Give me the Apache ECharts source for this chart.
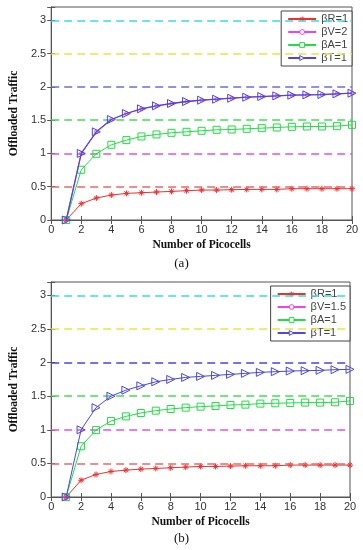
<!DOCTYPE html>
<html><head><meta charset="utf-8">
<script src="https://cdn.jsdelivr.net/npm/echarts@6/dist/echarts.min.js"></script>
<style>html,body{margin:0;padding:0;background:#fff}#c{width:363px;height:550px}</style>
</head><body><div id="c"></div>
<script>
var picocells = [1,2,3,4,5,6,7,8,9,10,11,12,13,14,15,16,17,18,19,20];
var thresholds = [3, 2.5, 2, 1.5, 1, 0.5];
var yTicks = ['0','0.5','1','1.5','2','2.5','3'];
var xTicks = ['0','2','4','6','8','10','12','14','16','18','20'];

// chart (a)
var aR = [0,0.245,0.33,0.375,0.40,0.41,0.42,0.43,0.44,0.45,0.45,0.455,0.46,0.46,0.46,0.47,0.47,0.47,0.47,0.47];
var aA = [0,0.755,0.995,1.13,1.20,1.255,1.285,1.31,1.325,1.34,1.355,1.36,1.37,1.38,1.39,1.40,1.405,1.405,1.41,1.43];
var aT = [0,1.0,1.325,1.51,1.60,1.67,1.715,1.75,1.78,1.80,1.815,1.83,1.845,1.855,1.865,1.875,1.88,1.885,1.895,1.905];
var aV = [0,1.0,1.325,1.51,1.60,1.67,1.715,1.75,1.78,1.80,1.815,1.83,1.845,1.855,1.865,1.875,1.88,1.885,1.895,1.905];
// chart (b)
var bR = [0,0.25,0.335,0.38,0.40,0.415,0.425,0.435,0.445,0.455,0.455,0.46,0.465,0.465,0.465,0.475,0.475,0.475,0.475,0.475];
var bA = [0,0.755,0.995,1.13,1.20,1.25,1.285,1.31,1.33,1.345,1.355,1.37,1.375,1.39,1.395,1.40,1.405,1.405,1.41,1.43];
var bT = [0,1.0,1.33,1.50,1.59,1.655,1.715,1.75,1.78,1.795,1.81,1.825,1.84,1.855,1.865,1.875,1.88,1.885,1.895,1.90];
var bV = [0];

var namesA = ['βR=1','βV=2','βA=1','βT=1'];
var namesB = ['βR=1','βV=1.5','βA=1','βT=1'];
var serColors = ['#ee3030','#ee44ee','#22dd44','#4a48d8'];
var thrColorsA = ['#33e0e0','#e6e640','#6e6ed6','#44dd55','#dd55dd','#e36a6a'];
var thrColorsB = ['#33e0e0','#e6e640','#4848d8','#44dd55','#dd55dd','#e36a6a'];

function pairs(arr){ return arr.map(function(v,i){ return [picocells[i], v]; }); }

var gridsPos = [
  {left:45, right:11, top:7, height:213},
  {left:43, right:13, top:282, height:215}
];
var axisColor = '#555';
var labelStyle = {color:'#333', fontFamily:'Liberation Sans, Arial', fontSize:11};
var nameStyle = {color:'#111', fontFamily:'Liberation Serif, Times New Roman', fontSize:11.5, fontWeight:'bold'};
var syms = ['path://M0,5L10,5M5,0L5,10M1.5,1.5L8.5,8.5M8.5,1.5L1.5,8.5', 'circle', 'rect', 'path://M0,0L10,5L0,10Z'];
var sizes = [6, 5, 7, 8];

var xAxis = [], yAxis = [], series = [], legends = [];
[0,1].forEach(function(g){
  xAxis.push({gridIndex:g, type:'value', min:0, max:20, interval:2,
    name:'Number of Picocells', nameLocation:'middle', nameGap:19, nameTextStyle:nameStyle,
    axisLine:{lineStyle:{color:axisColor}}, axisTick:{inside:true, length:4, lineStyle:{color:axisColor}},
    axisLabel:Object.assign({margin:4, formatter:function(v){return xTicks.indexOf(String(v))>=0?String(v):'';}}, labelStyle),
    splitLine:{show:false}});
  xAxis.push({gridIndex:g, type:'value', min:0, max:20, interval:2, position:'top',
    axisLine:{lineStyle:{color:axisColor}}, axisTick:{inside:true, length:4, lineStyle:{color:axisColor}},
    axisLabel:{show:false}, splitLine:{show:false}});
  yAxis.push({gridIndex:g, type:'value', min:0, max:3.2, interval:0.5,
    name:'Offloaded Traffic', nameLocation:'middle', nameGap:29, nameTextStyle:nameStyle,
    axisLine:{lineStyle:{color:axisColor}}, axisTick:{inside:true, length:4, lineStyle:{color:axisColor}},
    axisLabel:Object.assign({margin:5, formatter:function(v){var s=String(v);return yTicks.indexOf(s)>=0?s:'';}}, labelStyle),
    splitLine:{show:false}});
  yAxis.push({gridIndex:g, type:'value', min:0, max:3.2, interval:0.5, position:'right',
    axisLine:{lineStyle:{color:axisColor}}, axisTick:{inside:true, length:4, lineStyle:{color:axisColor}},
    axisLabel:{show:false}, splitLine:{show:false}});

  var thrC = g===0 ? thrColorsA : thrColorsB;
  series.push({type:'line', xAxisIndex:2*g, yAxisIndex:2*g, data:[], silent:true,
    markLine:{silent:true, symbol:'none', label:{show:false}, animation:false,
      data: thresholds.map(function(t,i){ return {yAxis:t, lineStyle:{color:thrC[i], type:[8,5], width:1.6}}; })}});

  var names = g===0 ? namesA : namesB;
  var dat = g===0 ? [aR,aV,aA,aT] : [bR,bV,bA,bT];
  [0,1,2,3].forEach(function(k){
    var it = {color:'rgba(255,255,255,0)', borderColor:serColors[k], borderWidth:1};
    if (k===0) it = {color:serColors[k], borderColor:serColors[k], borderWidth:1};
    var lw = 1;
    if (g===0 && k===3) lw = 1.3;
    series.push({name:names[k], type:'line', xAxisIndex:2*g, yAxisIndex:2*g,
      data:pairs(dat[k]), symbol:syms[k], symbolSize:(g===0 && k===1) ? 3.5 : sizes[k], showAllSymbol:true,
      lineStyle:{color:(g===0 && k===3) ? '#5646d6' : serColors[k], width:lw},
      itemStyle:it, z: 3+k, animation:false});
  });

  legends.push({show:true, orient:'vertical', right: g===0 ? 11 : 13, top: g===0 ? 11 : 286,
    data: names.map(function(n,k){
      return {name:n, itemStyle:{color: k===0 ? serColors[k] : '#fff', borderColor:serColors[k], borderWidth:1}};
    }),
    backgroundColor:'#fff', borderColor:'#444', borderWidth:1, padding:[2,4,2,6], itemGap:1,
    itemWidth:28, itemHeight:6, textStyle:{color:'#444', fontFamily:'Liberation Sans, Arial', fontSize:11, lineHeight:12},
    selectedMode:false});
});

var chart = echarts.init(document.getElementById('c'), null, {renderer:'canvas'});
chart.setOption({
  animation:false,
  grid: gridsPos.map(function(p){ return Object.assign({show:true, borderColor:axisColor, borderWidth:1, backgroundColor:'#fff'}, p); }),
  xAxis:xAxis, yAxis:yAxis, series:series, legend:legends,
  graphic:[
    {type:'text', left:'center', top:257, style:{text:'(a)', fill:'#111', font:'13px "Liberation Serif"'}},
    {type:'text', left:'center', top:532, style:{text:'(b)', fill:'#111', font:'13px "Liberation Serif"'}}
  ]
});
</script></body></html>
